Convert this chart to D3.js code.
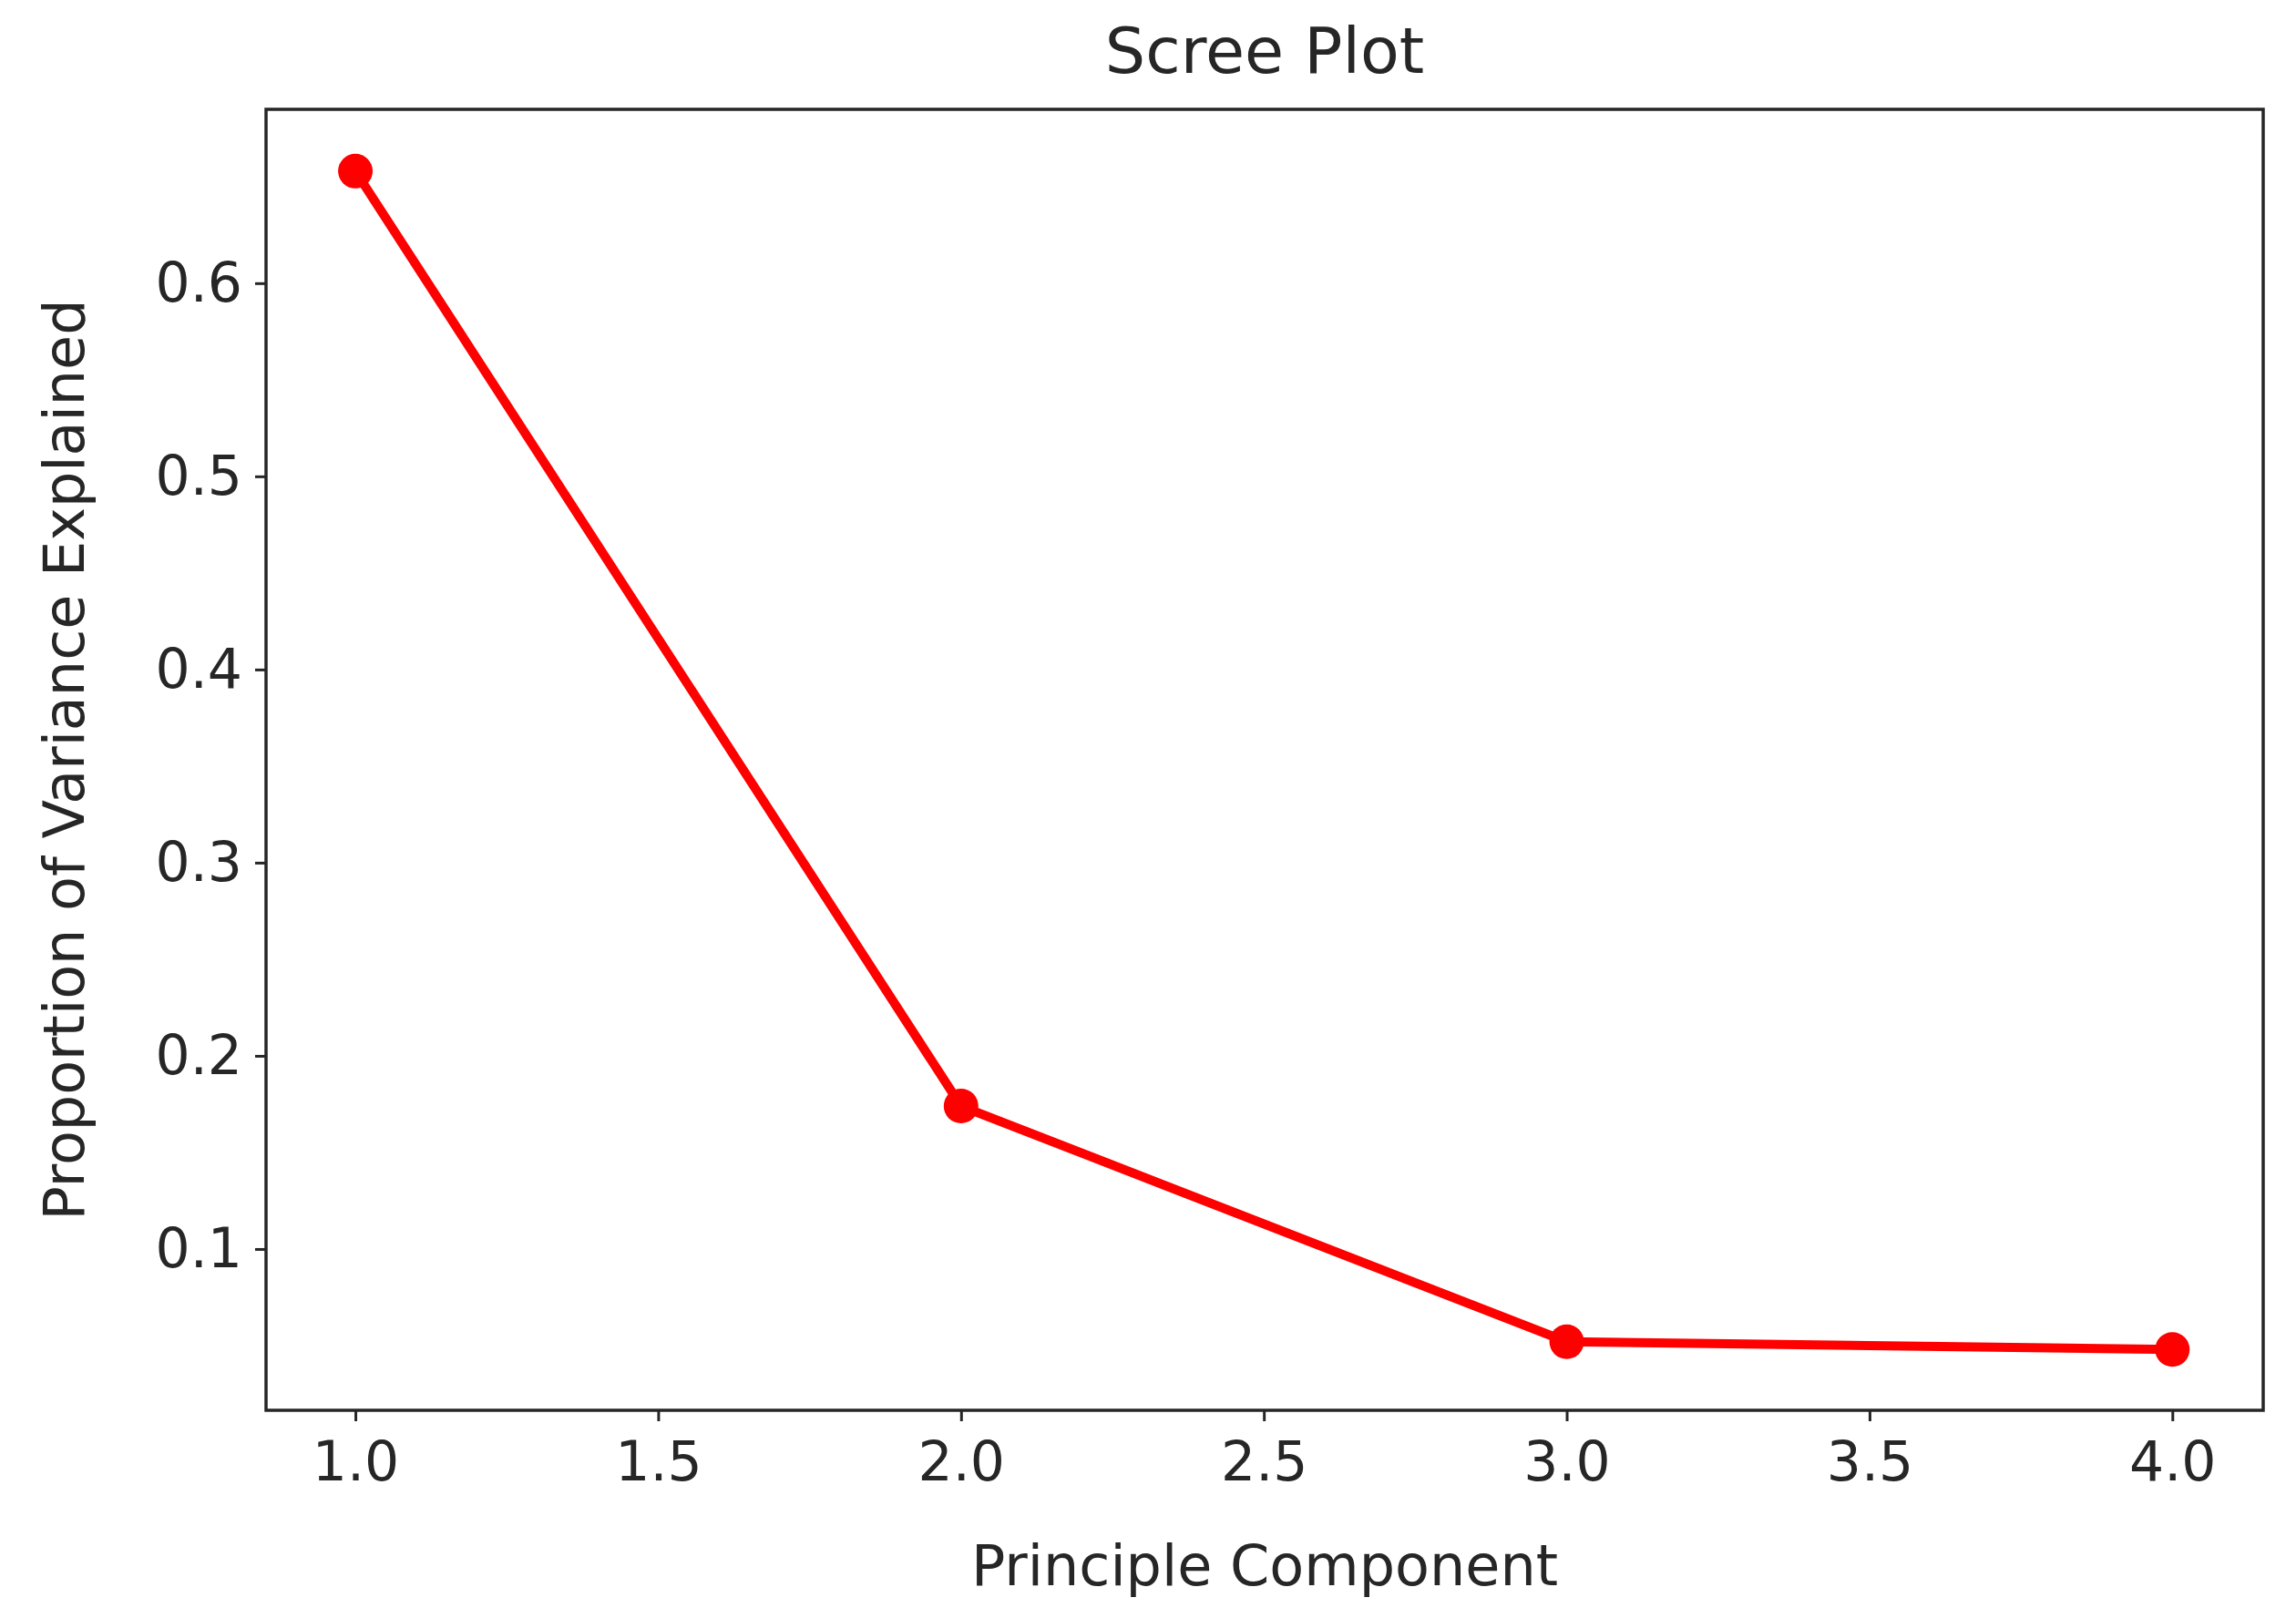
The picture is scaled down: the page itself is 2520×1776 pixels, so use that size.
<!DOCTYPE html>
<html><head><meta charset="utf-8">
<script src="https://cdn.jsdelivr.net/npm/d3@7"></script>
<style>body{margin:0;background:#fff}text{font-family:"DejaVu Sans",sans-serif;fill:#262626}</style>
</head><body><svg id="chart" width="2520" height="1776"></svg>
<script>
const components = [1, 2, 3, 4];
const varianceExplained = [0.658, 0.174, 0.052, 0.048];
const xTicks = [1.0, 1.5, 2.0, 2.5, 3.0, 3.5, 4.0];
const yTicks = [0.1, 0.2, 0.3, 0.4, 0.5, 0.6];

const svg = d3.select('#chart');
const m = { left: 292, right: 2484, top: 120, bottom: 1548 };
const x = d3.scaleLinear().domain([0.8525, 4.15]).range([m.left, m.right]);
const y = d3.scaleLinear().domain([0.0165, 0.690]).range([m.bottom, m.top]);

const xa = svg.append('g').attr('transform', `translate(0,${m.bottom})`)
  .call(d3.axisBottom(x).tickValues(xTicks).tickFormat(d3.format('.1f')).tickSize(12).tickPadding(14));
const ya = svg.append('g').attr('transform', `translate(${m.left},0)`)
  .call(d3.axisLeft(y).tickValues(yTicks).tickFormat(d3.format('.1f')).tickSize(12).tickPadding(14));
[xa, ya].forEach(a => {
  a.select('.domain').remove();
  a.selectAll('line').attr('stroke', '#262626').attr('stroke-width', 3);
  a.selectAll('text').style('font-size', '60px').attr('fill', '#262626');
});
xa.selectAll('text').attr('dy', '0.85em');

svg.append('rect').attr('x', m.left).attr('y', m.top)
  .attr('width', m.right - m.left).attr('height', m.bottom - m.top)
  .attr('fill', 'none').attr('stroke', '#262626').attr('stroke-width', 3.5);

const pts = components.map((c, i) => [c, varianceExplained[i]]);
svg.append('path').datum(pts)
  .attr('d', d3.line().x(d => x(d[0])).y(d => y(d[1])))
  .attr('fill', 'none').attr('stroke', 'red').attr('stroke-width', 10);
svg.selectAll('circle.pt').data(pts).enter().append('circle')
  .attr('cx', d => x(d[0])).attr('cy', d => y(d[1])).attr('r', 19).attr('fill', 'red');

svg.append('text').attr('x', (m.left + m.right) / 2).attr('y', 80)
  .attr('text-anchor', 'middle').style('font-size', '70px').text('Scree Plot');
svg.append('text').attr('x', (m.left + m.right) / 2).attr('y', 1740)
  .attr('text-anchor', 'middle').style('font-size', '62px').text('Principle Component');
svg.append('text').attr('transform', `translate(92,${(m.top + m.bottom) / 2}) rotate(-90)`)
  .attr('text-anchor', 'middle').style('font-size', '62px').text('Proportion of Variance Explained');
</script></body></html>
